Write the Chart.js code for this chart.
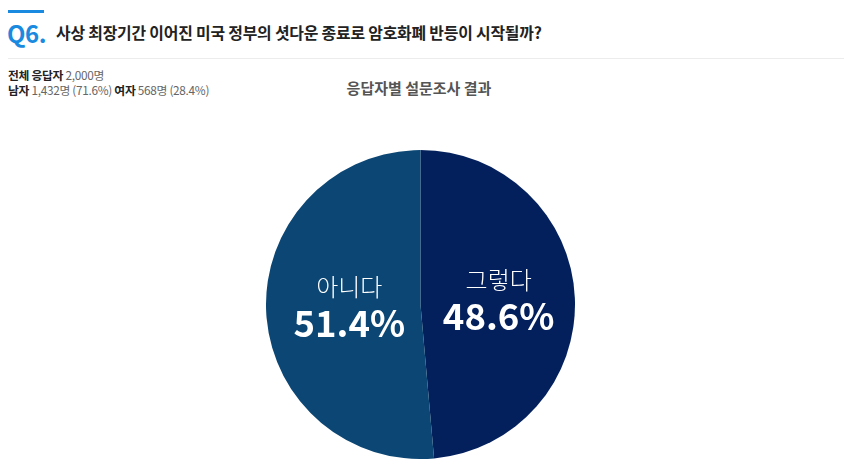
<!DOCTYPE html>
<html><head><meta charset="utf-8">
<script src="https://cdn.jsdelivr.net/npm/chart.js@4"></script>
<style>
html,body{margin:0;padding:0;background:#fff;width:849px;height:466px;overflow:hidden;font-family:"Noto Sans CJK KR","Noto Sans",sans-serif;}
#bar{position:absolute;left:8px;top:10px;width:36px;height:3px;background:#1a8ae0;}
#q{position:absolute;left:7px;top:17px;font-size:24px;font-weight:700;color:#1a8ae0;letter-spacing:-0.5px;line-height:32px;}
#t{position:absolute;left:56px;top:21px;font-size:15.9px;font-weight:700;color:#222;line-height:24px;letter-spacing:-0.2px;}
#line{position:absolute;left:8px;top:58px;width:836px;height:1px;background:#ececec;}
#info{position:absolute;left:8px;top:67px;font-size:11.8px;line-height:15px;color:#666;letter-spacing:-0.3px;}
#info b{color:#222;font-weight:700;}
#sub{position:absolute;left:0;width:838px;text-align:center;top:77px;font-size:15px;font-weight:700;color:#555;}
#wrap{position:absolute;left:266px;top:150px;width:309px;height:309px;}
</style></head><body>
<div id="bar"></div>
<div id="q">Q6.</div>
<div id="t">사상 최장기간 이어진 미국 정부의 셧다운 종료로 암호화폐 반등이 시작될까?</div>
<div id="line"></div>
<div id="info"><b>전체 응답자</b> 2,000명<br><b>남자</b> 1,432명 (71.6%) <b>여자</b> 568명 (28.4%)</div>
<div id="sub">응답자별 설문조사 결과</div>
<div id="wrap"><canvas id="c" width="309" height="309"></canvas></div>
<script>
const categories = ["그렇다", "아니다"];
const values = [48.6, 51.4];
const colors = ["#03205c", "#0b4674"];

const labelPlugin = {
  id: 'sliceLabels',
  afterDatasetsDraw(chart) {
    const ctx = chart.ctx;
    const meta = chart.getDatasetMeta(0);
    meta.data.forEach((arc, i) => {
      const p = arc.tooltipPosition();
      const dx = i === 1 ? 6 : 1;
      ctx.save();
      ctx.fillStyle = '#fff';
      ctx.textAlign = 'center';
      ctx.textBaseline = 'middle';
      ctx.font = '300 24px "Noto Sans CJK KR"';
      ctx.fillText(categories[i], p.x + dx, p.y - 21);
      ctx.font = '700 36.5px "Noto Sans CJK KR"';
      ctx.fillText(values[i].toFixed(1) + '%', p.x + dx, p.y + 15);
      ctx.restore();
    });
  }
};

new Chart(document.getElementById('c'), {
  type: 'pie',
  data: {
    labels: categories,
    datasets: [{ data: values, backgroundColor: colors, borderWidth: 0 }]
  },
  options: {
    responsive: false,
    animation: false,
    layout: { padding: 0 },
    plugins: { legend: { display: false }, tooltip: { enabled: false }, title: { display: false } }
  },
  plugins: [labelPlugin]
});
</script>
</body></html>
